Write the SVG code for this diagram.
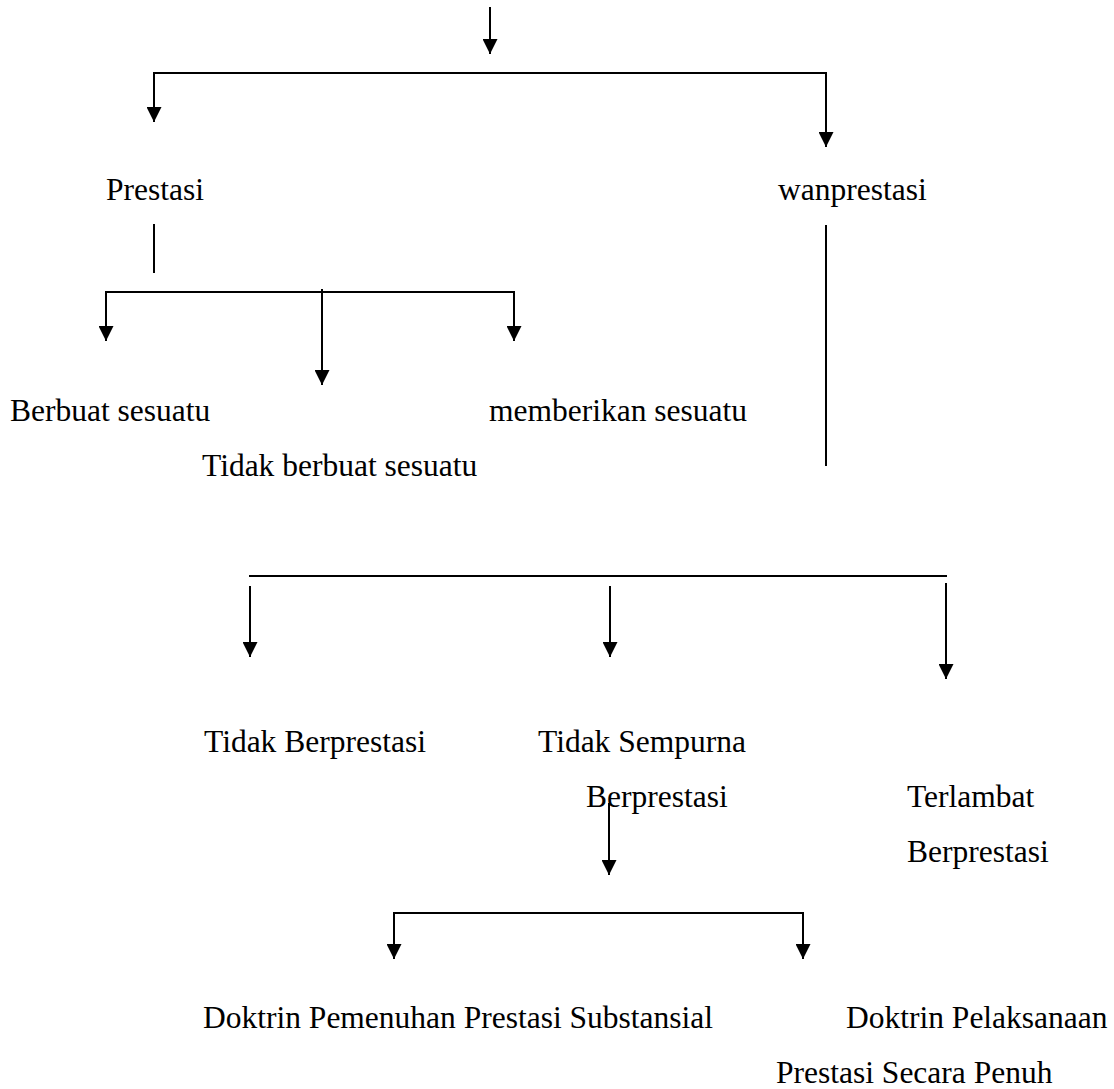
<svg xmlns="http://www.w3.org/2000/svg" width="1114" height="1089" viewBox="0 0 1114 1089">
<style>
  text { font-family: "Liberation Serif", "Times New Roman", serif; font-size: 31.5px; fill: #000; }
  .ln { stroke: #000; stroke-width: 2; fill: none; }
  .ar { stroke: #000; stroke-width: 2; fill: none; marker-end: url(#arr); }
</style>
<defs>
  <marker id="arr" viewBox="0 0 15 15" refX="15" refY="7.5" markerWidth="15" markerHeight="15" markerUnits="userSpaceOnUse" orient="auto">
    <path d="M0,0 L15,7.5 L0,15 z" fill="#000"/>
  </marker>
</defs>
<rect width="1114" height="1089" fill="#fff"/>
<g id="connectors">
  <line class="ar" x1="490" y1="7" x2="490" y2="54"/>
  <line class="ln" x1="153" y1="73" x2="827" y2="73"/>
  <line class="ar" x1="154" y1="73" x2="154" y2="122"/>
  <line class="ar" x1="826" y1="73" x2="826" y2="147"/>
  <line class="ln" x1="154" y1="224" x2="154" y2="273"/>
  <line class="ln" x1="105" y1="292" x2="515" y2="292"/>
  <line class="ar" x1="106" y1="292" x2="106" y2="341"/>
  <line class="ar" x1="322" y1="289" x2="322" y2="385"/>
  <line class="ar" x1="514" y1="292" x2="514" y2="341"/>
  <line class="ln" x1="826" y1="225" x2="826" y2="466"/>
  <line class="ln" x1="249" y1="576" x2="947" y2="576"/>
  <line class="ar" x1="250" y1="586" x2="250" y2="657"/>
  <line class="ar" x1="610" y1="586" x2="610" y2="657"/>
  <line class="ar" x1="946" y1="583" x2="946" y2="679"/>
  <line class="ar" x1="609" y1="803" x2="609" y2="875"/>
  <line class="ln" x1="393" y1="913" x2="804" y2="913"/>
  <line class="ar" x1="394" y1="913" x2="394" y2="959"/>
  <line class="ar" x1="803" y1="913" x2="803" y2="959"/>
</g>
<g id="node-prestasi"><text x="106" y="200">Prestasi</text></g>
<g id="node-wanprestasi"><text x="778" y="200">wanprestasi</text></g>
<g id="node-berbuat"><text x="10" y="421">Berbuat sesuatu</text></g>
<g id="node-tidak-berbuat"><text x="202" y="476">Tidak berbuat sesuatu</text></g>
<g id="node-memberikan"><text x="489" y="421">memberikan sesuatu</text></g>
<g id="node-tidak-berprestasi"><text x="204" y="752">Tidak Berprestasi</text></g>
<g id="node-tidak-sempurna"><text x="538" y="752">Tidak Sempurna</text><text x="586" y="807">Berprestasi</text></g>
<g id="node-terlambat"><text x="907" y="807">Terlambat</text><text x="907" y="862">Berprestasi</text></g>
<g id="node-doktrin-substansial"><text x="203" y="1028">Doktrin Pemenuhan Prestasi Substansial</text></g>
<g id="node-doktrin-penuh"><text x="846" y="1028">Doktrin Pelaksanaan</text><text x="776" y="1083">Prestasi Secara Penuh</text></g>
</svg>
